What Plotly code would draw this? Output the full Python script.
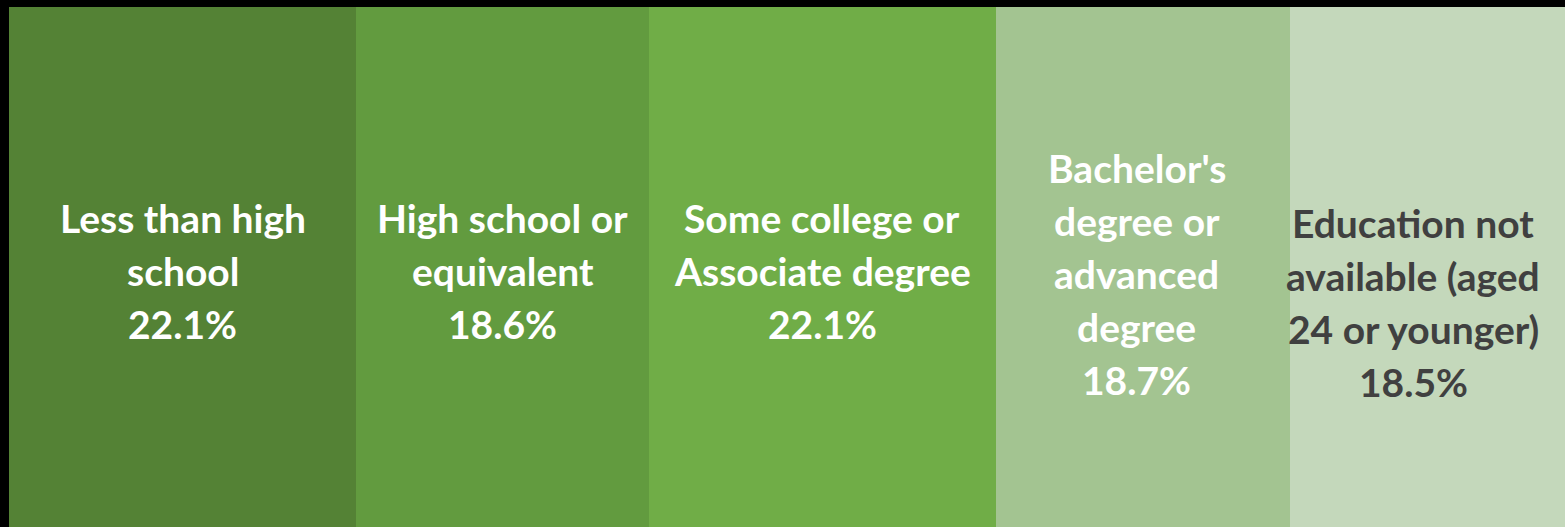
import plotly.graph_objects as go

# Share of the group by educational attainment (percent)
categories = [
    "Less than high school",
    "High school or equivalent",
    "Some college or Associate degree",
    "Bachelor's degree or advanced degree",
    "Education not available (aged 24 or younger)",
]
label_lines = [
    ["Less than high", "school"],
    ["High school or", "equivalent"],
    ["Some college or", "Associate degree"],
    ["Bachelor's", "degree or", "advanced", "degree"],
    ["Education not", "available (aged", "24 or younger)"],
]
shares = [22.1, 18.6, 22.1, 18.7, 18.5]

colors = ["#548235", "#629b3f", "#70ad47", "#a3c491", "#c4d8bb"]
text_colors = ["#ffffff", "#ffffff", "#ffffff", "#ffffff", "#404040"]
# label block placement: vertical centre (px from top of page) and horizontal nudge
block_center_px = [271.5, 271.5, 271.5, 274.5, 303.0]
block_xshift = [0, 0, 0, -6, -22]

W, H = 1565, 527
M_L, M_T = 9, 7
LINE_H = 53
FONT = "Lato"
FSIZE = 39

fig = go.Figure()
for cat, val, col in zip(categories, shares, colors):
    fig.add_trace(go.Bar(
        y=["all"], x=[val], orientation="h", name=cat,
        marker=dict(color=col, line=dict(width=0)),
        hoverinfo="name+x",
    ))

plot_h = H - M_T
annotations = []
start = 0.0
for i, val in enumerate(shares):
    center = start + val / 2
    start += val
    lines = label_lines[i] + [f"{val:.1f}%"]
    n = len(lines)
    for j, line in enumerate(lines):
        y_px = block_center_px[i] + (j - (n - 1) / 2) * LINE_H
        y_paper = 1 - (y_px - M_T) / plot_h
        annotations.append(dict(
            x=center, xref="x", y=y_paper, yref="paper",
            text=f"<b>{line}</b>", showarrow=False,
            xanchor="center", yanchor="middle",
            xshift=block_xshift[i], yshift=1,
            font=dict(family=FONT, size=FSIZE, color=text_colors[i]),
        ))

fig.update_layout(
    width=W, height=H,
    barmode="stack", bargap=0,
    showlegend=False,
    paper_bgcolor="#000000", plot_bgcolor="#000000",
    margin=dict(l=M_L, r=0, t=M_T, b=0, pad=0),
    xaxis=dict(range=[0, 99.0], visible=False, fixedrange=True),
    yaxis=dict(range=[-0.5, 0.5], visible=False, fixedrange=True),
    annotations=annotations,
)

fig.write_html("out.html")
